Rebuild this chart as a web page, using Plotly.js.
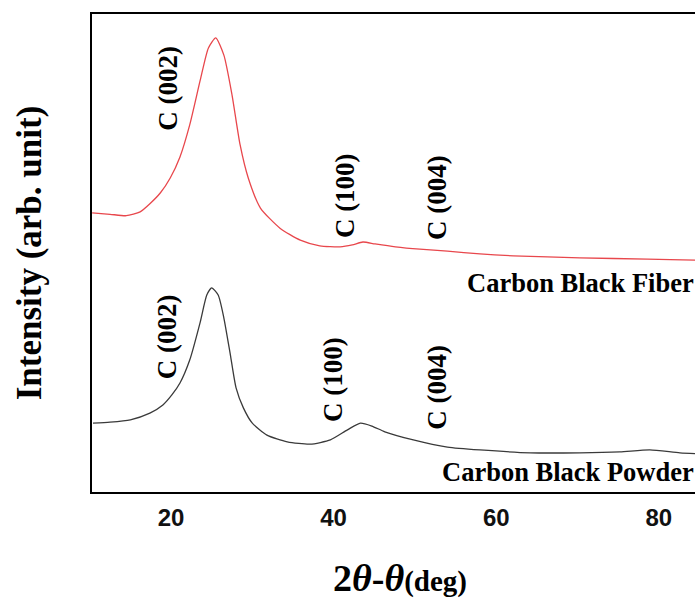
<!DOCTYPE html>
<html><head><meta charset="utf-8">
<script src="https://cdn.plot.ly/plotly-3.0.1.min.js"></script>
<style>html,body{margin:0;padding:0;overflow:hidden;background:#fff}</style>
</head><body>
<div id="chart" style="width:728px;height:599px"></div>
<script>
// 2θ (deg) and intensity (arb. unit, stacked)
const fiberX = [10.3, 12.5, 14.5, 16.2, 17.4, 18.7, 19.9, 21.1, 22.3, 23.6, 24.6, 25.5, 26.5, 27.5, 28.5, 29.5, 31.0, 33.4, 35.9, 38.3, 40.8, 42.3, 43.6, 45.1, 47.6, 50.6, 54.0, 58.0, 62.1, 70.3, 78.6, 84.5, 86.1];
const fiberY = [58.4, 58.1, 57.8, 58.6, 60.3, 62.6, 65.7, 70.1, 76.8, 86.2, 92.9, 95.0, 91.4, 83.1, 72.6, 65.7, 59.4, 55.2, 52.7, 51.5, 51.3, 51.7, 52.3, 51.9, 51.3, 50.8, 50.4, 49.8, 49.4, 49.0, 48.7, 48.5, 48.5];
const powderX = [10.4, 12.5, 15.0, 17.4, 19.0, 20.1, 21.1, 22.3, 23.6, 24.4, 25.0, 25.8, 26.5, 27.3, 28.0, 28.9, 30.0, 31.8, 34.3, 37.1, 39.6, 41.7, 43.3, 44.7, 46.3, 49.8, 54.0, 58.0, 64.2, 70.3, 75.2, 78.9, 82.6, 86.1];
const powderY = [14.4, 14.6, 15.1, 16.5, 18.2, 20.3, 22.8, 27.6, 35.6, 41.2, 42.7, 41.2, 36.4, 28.7, 21.8, 17.6, 14.4, 11.9, 10.5, 10.0, 10.9, 13.0, 14.4, 13.8, 12.6, 10.9, 9.4, 8.8, 8.2, 8.2, 8.4, 8.8, 8.2, 7.9];
const peakLabels = ["C (002)", "C (100)", "C (004)"];
const fiberPeakX = [19.6, 41.4, 52.7];
const fiberPeakY = [84.5, 61.9, 61.7];
const powderPeakX = [19.5, 39.9, 52.7];
const powderPeakY = [32.6, 23.6, 22.0];
const seriesNames = ["Carbon Black Fiber", "Carbon Black Powder"];
const seriesLabelX = [84.6, 84.6];
const seriesLabelY = [43.7, 4.2];

const serif = "Liberation Serif, Times New Roman, serif";
const traces = [
  {x: fiberX, y: fiberY, mode: "lines", line: {color: "#e8474c", width: 1.3, shape: "spline", smoothing: 0.6}, name: seriesNames[0]},
  {x: powderX, y: powderY, mode: "lines", line: {color: "#3a3a3a", width: 1.3, shape: "spline", smoothing: 0.6}, name: seriesNames[1]}
];
const ann = [];
peakLabels.forEach((t, i) => {
  ann.push({x: fiberPeakX[i], y: fiberPeakY[i], text: "<b>" + t + "</b>", textangle: -90, showarrow: false, font: {family: serif, size: 27, color: "#000"}});
  ann.push({x: powderPeakX[i], y: powderPeakY[i], text: "<b>" + t + "</b>", textangle: -90, showarrow: false, font: {family: serif, size: 27, color: "#000"}});
});
seriesNames.forEach((t, i) => {
  ann.push({x: seriesLabelX[i], y: seriesLabelY[i], text: "<b>" + t + "</b>", xanchor: "right", showarrow: false, font: {family: serif, size: 26.5, color: "#000"}});
});
const layout = {
  width: 728, height: 599,
  margin: {l: 92, r: 20, t: 14, b: 107},
  paper_bgcolor: "#fff", plot_bgcolor: "#fff",
  showlegend: false,
  xaxis: {range: [10.28, 86.05], tickvals: [20, 40, 60, 80], ticks: "", showgrid: false, zeroline: false,
    showline: true, mirror: true, linecolor: "#000", linewidth: 2,
    ticklabelstandoff: 3,
    tickfont: {family: "Liberation Sans, Arial, sans-serif", size: 24, color: "#111", weight: "bold"},
    title: {text: "<b>2<i>θ</i>-<i>θ</i></b><b><span style='font-size:29px'>(deg)</span></b>", standoff: 38,
      font: {family: serif, size: 38, color: "#000"}}},
  yaxis: {range: [0, 100], showticklabels: false, ticks: "", showgrid: false, zeroline: false,
    showline: true, mirror: true, linecolor: "#000", linewidth: 2,
    title: {text: "<b>Intensity (arb. unit)</b>", standoff: 38, font: {family: serif, size: 35, color: "#000"}}},
  annotations: ann
};
Plotly.newPlot("chart", traces, layout, {staticPlot: true, displayModeBar: false});
</script>
</body></html>
